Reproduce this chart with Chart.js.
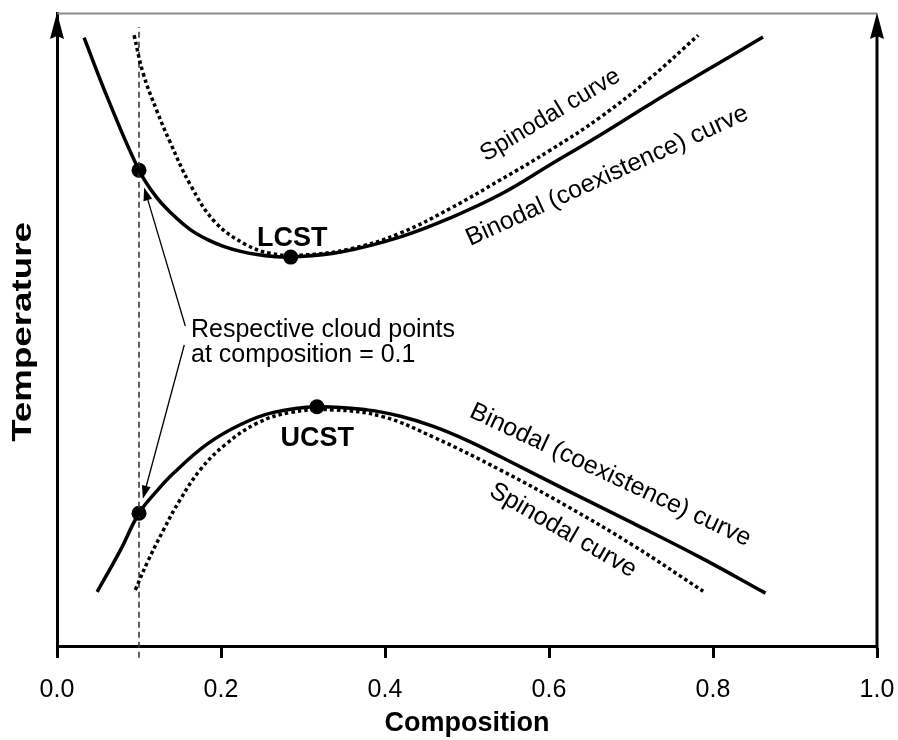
<!DOCTYPE html>
<html>
<head>
<meta charset="utf-8">
<script src="https://cdn.jsdelivr.net/npm/chart.js@4.4.1/dist/chart.umd.min.js"></script>
<style>
html,body{margin:0;padding:0;background:#fff;}
#wrap{width:898px;height:740px;}
</style>
</head>
<body>
<div id="wrap"><canvas id="c" width="898" height="740"></canvas></div>
<script>
// ---- data (composition vs. relative temperature) ----
const xTickValues = [0.0, 0.2, 0.4, 0.6, 0.8, 1.0];

const upperBinodalX = [0.033, 0.061, 0.100, 0.121, 0.142, 0.163, 0.183, 0.203, 0.224, 0.244, 0.264, 0.285, 0.346, 0.419, 0.480, 0.541, 0.602, 0.663, 0.724, 0.785, 0.861];
const upperBinodalY = [0.961, 0.868, 0.752, 0.710, 0.681, 0.658, 0.643, 0.632, 0.624, 0.619, 0.616, 0.615, 0.623, 0.647, 0.677, 0.714, 0.761, 0.808, 0.857, 0.904, 0.962];

const upperSpinodalX = [0.094, 0.105, 0.122, 0.138, 0.163, 0.193, 0.230, 0.260, 0.297, 0.358, 0.419, 0.480, 0.541, 0.602, 0.663, 0.724, 0.782];
const upperSpinodalY = [0.965, 0.905, 0.845, 0.796, 0.728, 0.670, 0.635, 0.621, 0.618, 0.628, 0.653, 0.692, 0.737, 0.784, 0.836, 0.898, 0.965];

const lowerBinodalX = [0.049, 0.077, 0.100, 0.121, 0.142, 0.183, 0.224, 0.264, 0.317, 0.378, 0.419, 0.459, 0.500, 0.541, 0.622, 0.703, 0.785, 0.864];
const lowerBinodalY = [0.087, 0.152, 0.211, 0.245, 0.274, 0.320, 0.351, 0.370, 0.379, 0.374, 0.364, 0.348, 0.326, 0.300, 0.247, 0.195, 0.141, 0.085];

const lowerSpinodalX = [0.0955, 0.110, 0.130, 0.150, 0.175, 0.205, 0.244, 0.285, 0.337, 0.398, 0.459, 0.541, 0.622, 0.703, 0.788];
const lowerSpinodalY = [0.090, 0.133, 0.185, 0.232, 0.280, 0.319, 0.353, 0.370, 0.374, 0.363, 0.331, 0.279, 0.222, 0.160, 0.088];

const keyPointNames = ['Cloud point (upper)', 'LCST', 'UCST', 'Cloud point (lower)'];
const keyPointX = [0.100, 0.285, 0.317, 0.100];
const keyPointY = [0.752, 0.615, 0.379, 0.211];

const cloudLineX = [0.1, 0.1];
const cloudLineY = [-0.017, 0.978];

// ---- helpers / styling ----
const FONT = "'Liberation Sans', Arial, Helvetica, sans-serif";
function pts(xs, ys) { return xs.map((x, i) => ({ x: x, y: ys[i] })); }

const textLabels = [
  { text: 'LCST', x: 0.287, y: 0.645, angle: 0, bold: true, size: 27 },
  { text: 'UCST', x: 0.3174, y: 0.328, angle: 0, bold: true, size: 27 },
  { text: 'Spinodal curve', x: 0.6016, y: 0.839, angle: -31, size: 24 },
  { text: 'Binodal (coexistence) curve', x: 0.671, y: 0.743, angle: -24.5, size: 25 },
  { text: 'Binodal (coexistence) curve', x: 0.6748, y: 0.271, angle: 25, size: 25 },
  { text: 'Spinodal curve', x: 0.617, y: 0.184, angle: 30, size: 25 },
  { text: 'Respective cloud points', x: 0.1634, y: 0.489, angle: 0, size: 25, align: 'left', baseline: 'alphabetic' },
  { text: 'at composition = 0.1', x: 0.1634, y: 0.4495, angle: 0, size: 25, align: 'left', baseline: 'alphabetic' }
];

const arrowNotes = [
  { fromX: 0.1565, fromY: 0.5063, pointIndex: 0, gap: 18 },
  { fromX: 0.1552, fromY: 0.4763, pointIndex: 3, gap: 15 }
];

const decor = {
  id: 'decor',
  afterDatasetsDraw(chart) {
    const ctx = chart.ctx, a = chart.chartArea;
    const xs = chart.scales.x, ys = chart.scales.y;
    ctx.save();
    // top frame line (grey)
    ctx.strokeStyle = '#8c8c8c'; ctx.lineWidth = 2;
    ctx.beginPath(); ctx.moveTo(a.left, a.top + 0.5); ctx.lineTo(a.right, a.top + 0.5); ctx.stroke();
    // right axis
    ctx.strokeStyle = '#000'; ctx.lineWidth = 3;
    ctx.beginPath(); ctx.moveTo(a.right, a.bottom + 1.5); ctx.lineTo(a.right, a.top + 20); ctx.stroke();
    // arrowheads on both vertical axes
    [a.left, a.right].forEach(x => {
      ctx.fillStyle = '#000';
      ctx.beginPath();
      ctx.moveTo(x, a.top - 0.5);
      ctx.lineTo(x + 7, a.top + 26);
      ctx.lineTo(x, a.top + 23);
      ctx.lineTo(x - 7, a.top + 26);
      ctx.closePath(); ctx.fill();
    });
    // annotation arrows
    arrowNotes.forEach(n => {
      const x0 = xs.getPixelForValue(n.fromX), y0 = ys.getPixelForValue(n.fromY);
      const px = xs.getPixelForValue(keyPointX[n.pointIndex]), py = ys.getPixelForValue(keyPointY[n.pointIndex]);
      const dx = x0 - px, dy = y0 - py, len = Math.hypot(dx, dy);
      const ux = dx / len, uy = dy / len;
      const tx = px + ux * n.gap, ty = py + uy * n.gap;
      ctx.strokeStyle = '#000'; ctx.lineWidth = 1.3;
      ctx.beginPath(); ctx.moveTo(x0, y0); ctx.lineTo(tx + ux * 8, ty + uy * 8); ctx.stroke();
      const hl = 13, hw = 4.5;
      const bx = tx + ux * hl, by = ty + uy * hl;
      ctx.fillStyle = '#000';
      ctx.beginPath();
      ctx.moveTo(tx, ty);
      ctx.lineTo(bx - uy * hw, by + ux * hw);
      ctx.lineTo(bx + uy * hw, by - ux * hw);
      ctx.closePath(); ctx.fill();
    });
    // text labels
    ctx.fillStyle = '#000';
    textLabels.forEach(t => {
      ctx.save();
      ctx.translate(xs.getPixelForValue(t.x), ys.getPixelForValue(t.y));
      ctx.rotate((t.angle || 0) * Math.PI / 180);
      ctx.font = (t.bold ? 'bold ' : '') + t.size + 'px ' + FONT;
      ctx.textAlign = t.align || 'center';
      ctx.textBaseline = t.baseline || 'middle';
      ctx.fillText(t.text, 0, 0);
      ctx.restore();
    });
    // y axis title
    ctx.save();
    ctx.translate(a.left - 33, (a.top + a.bottom) / 2 + 2);
    ctx.rotate(-Math.PI / 2);
    ctx.scale(1.36, 1);
    ctx.font = 'bold 27px ' + FONT;
    ctx.textAlign = 'center'; ctx.textBaseline = 'middle';
    ctx.fillText('Temperature', 0, 0);
    ctx.restore();
    ctx.restore();
  }
};

const solid = { borderColor: '#000', borderWidth: 3.5, pointRadius: 0, fill: false, tension: 0.4 };
const dotted = { borderColor: '#000', borderWidth: 3.5, borderDash: [3.5, 3], pointRadius: 0, fill: false, tension: 0.4, borderCapStyle: 'butt' };

new Chart(document.getElementById('c'), {
  type: 'line',
  data: {
    datasets: [
      Object.assign({ label: 'Binodal (coexistence) curve – LCST branch', data: pts(upperBinodalX, upperBinodalY) }, solid),
      Object.assign({ label: 'Spinodal curve – LCST branch', data: pts(upperSpinodalX, upperSpinodalY) }, dotted),
      Object.assign({ label: 'Binodal (coexistence) curve – UCST branch', data: pts(lowerBinodalX, lowerBinodalY) }, solid),
      Object.assign({ label: 'Spinodal curve – UCST branch', data: pts(lowerSpinodalX, lowerSpinodalY) }, dotted),
      { label: 'composition = 0.1', data: pts(cloudLineX, cloudLineY), borderColor: '#3a3a3a', borderWidth: 1.6, borderDash: [6, 4], pointRadius: 0, clip: false, fill: false },
      { label: 'Critical / cloud points', data: pts(keyPointX, keyPointY), showLine: false, pointRadius: 7.5, pointBackgroundColor: '#000', pointBorderWidth: 0, clip: false }
    ]
  },
  options: {
    responsive: false,
    animation: false,
    devicePixelRatio: 1,
    layout: { padding: { left: 57, right: 21, top: 13, bottom: 0 } },
    plugins: { legend: { display: false }, tooltip: { enabled: false } },
    scales: {
      x: {
        type: 'linear', min: 0, max: 1,
        afterBuildTicks: axis => { axis.ticks = xTickValues.map(v => ({ value: v })); },
        ticks: { callback: v => Number(v).toFixed(1), font: { size: 25, family: FONT, lineHeight: 2.32 }, color: '#000', padding: 3, maxRotation: 0, autoSkip: false },
        grid: { display: true, drawOnChartArea: false, drawTicks: true, tickLength: 11, tickWidth: 3, tickColor: '#000' },
        border: { display: true, color: '#000', width: 3 },
        title: { display: true, text: 'Composition', font: { size: 27, weight: 'bold', family: FONT, lineHeight: 0.667 }, color: '#000', padding: { top: -7, bottom: 7 } }
      },
      y: {
        type: 'linear', min: 0, max: 1,
        ticks: { display: false },
        grid: { display: false, drawTicks: false },
        border: { display: true, color: '#000', width: 3 }
      }
    }
  },
  plugins: [decor]
});
</script>
</body>
</html>
